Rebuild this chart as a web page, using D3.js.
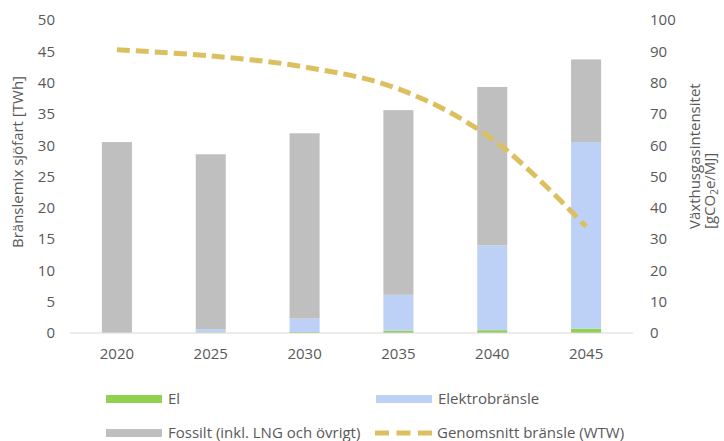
<!DOCTYPE html>
<html>
<head>
<meta charset="utf-8">
<script src="https://cdn.jsdelivr.net/npm/d3@7/dist/d3.min.js"></script>
<style>
  html, body { margin: 0; padding: 0; background: #fff; }
  svg text { font-family: "Open Sans", "Liberation Sans", sans-serif; fill: #595959; }
</style>
</head>
<body>
<svg id="chart" width="724" height="441"></svg>
<script>
// Fuel mix for shipping (TWh) and average fuel GHG intensity (gCO2e/MJ)
const years = ["2020", "2025", "2030", "2035", "2040", "2045"];
const el = [0.05, 0.1, 0.15, 0.35, 0.45, 0.7];
const elektro = [0, 0.5, 2.15, 5.75, 13.55, 29.8];
const fossil = [30.45, 27.95, 29.6, 29.5, 25.3, 13.2];
const wtw = [90.5, 88.5, 85, 78, 62, 34];
const leftTicks = [0, 5, 10, 15, 20, 25, 30, 35, 40, 45, 50];
const rightTicks = [0, 10, 20, 30, 40, 50, 60, 70, 80, 90, 100];

const seriesDefs = [
  { key: "el", name: "El", values: el, color: "#92D050" },
  { key: "elektro", name: "Elektrobränsle", values: elektro, color: "#BDD1F7" },
  { key: "fossil", name: "Fossilt (inkl. LNG och övrigt)", values: fossil, color: "#BFBFBF" }
];

const FS = "15px";
const svg = d3.select("#chart");
const plotLeft = 70, plotRight = 633, plotTop = 20, plotBottom = 333;

const x = d3.scaleBand().domain(years).range([plotLeft, plotRight]).paddingInner(0.68).paddingOuter(0.34);
const yL = d3.scaleLinear().domain([0, 50]).range([plotBottom, plotTop]);
const yR = d3.scaleLinear().domain([0, 100]).range([plotBottom, plotTop]);

// Stacked bars
const rows = years.map((yr, i) => {
  const r = { year: yr };
  seriesDefs.forEach(s => r[s.key] = s.values[i]);
  return r;
});
const stack = d3.stack().keys(seriesDefs.map(s => s.key));
const layers = stack(rows);

svg.append("g").selectAll("g")
  .data(layers)
  .join("g")
  .attr("fill", (d, i) => seriesDefs[i].color)
  .selectAll("rect")
  .data(d => d)
  .join("rect")
  .attr("x", d => x(d.data.year))
  .attr("width", x.bandwidth())
  .attr("y", d => yL(d[1]))
  .attr("height", d => yL(d[0]) - yL(d[1]));

// Baseline
svg.append("line")
  .attr("x1", plotLeft).attr("x2", plotRight)
  .attr("y1", yL(0)).attr("y2", yL(0))
  .attr("stroke", "#D9D9D9").attr("stroke-width", 1);

function styleTicks(g) {
  g.select(".domain").remove();
  g.selectAll("text").style("font-size", FS)
    .style("font-family", "'Open Sans', sans-serif").attr("fill", "#595959");
}

// Left axis labels
const gL = svg.append("g").attr("transform", "translate(55,0)")
  .call(d3.axisLeft(yL).tickValues(leftTicks).tickSize(0).tickPadding(0));
styleTicks(gL);

// Right axis labels
const gR = svg.append("g").attr("transform", "translate(650,0)")
  .call(d3.axisRight(yR).tickValues(rightTicks).tickSize(0).tickPadding(0));
styleTicks(gR);

// Category axis labels
const gX = svg.append("g").attr("transform", `translate(0,${plotBottom + 15})`)
  .call(d3.axisBottom(x).tickSize(0).tickPadding(0));
styleTicks(gX);

// Average fuel intensity line
const line = d3.line()
  .x((d, i) => x(years[i]) + x.bandwidth() / 2)
  .y(d => yR(d))
  .curve(d3.curveCatmullRom.alpha(0.5));
svg.append("path")
  .datum(wtw)
  .attr("d", line)
  .attr("fill", "none")
  .attr("stroke", "#DCC060")
  .attr("stroke-width", 5)
  .attr("stroke-dasharray", "13 6");

// Axis titles
svg.append("text")
  .attr("transform", "translate(23,162) rotate(-90)")
  .attr("text-anchor", "middle")
  .style("font-size", FS)
  .text("Bränslemix sjöfart [TWh]");

const rt = svg.append("text")
  .attr("transform", "translate(700,229) rotate(-90)")
  .attr("text-anchor", "start")
  .style("font-size", FS);
rt.append("tspan").attr("x", 0).attr("y", 0).text("Växthusgasintensitet");
rt.append("tspan").attr("x", 0).attr("y", 15).text("[gCO");
rt.append("tspan").attr("dy", 3).style("font-size", "10px").text("2");
rt.append("tspan").attr("dy", -3).text("e/MJ]");

// Legend
const legend = [
  { name: "El", color: "#92D050", x: 106, y: 399, type: "box" },
  { name: "Elektrobränsle", color: "#BDD1F7", x: 376, y: 399, type: "box" },
  { name: "Fossilt (inkl. LNG och övrigt)", color: "#BFBFBF", x: 106, y: 433, type: "box" },
  { name: "Genomsnitt bränsle (WTW)", color: "#DCC060", x: 375, y: 433, type: "line" }
];
const lg = svg.append("g");
legend.forEach(d => {
  if (d.type === "box") {
    lg.append("rect").attr("x", d.x).attr("y", d.y - 4).attr("width", 56).attr("height", 8).attr("fill", d.color);
  } else {
    lg.append("line").attr("x1", d.x).attr("x2", d.x + 57).attr("y1", d.y).attr("y2", d.y)
      .attr("stroke", d.color).attr("stroke-width", 5).attr("stroke-dasharray", "14 7.5");
  }
  lg.append("text").attr("x", d.x + 62).attr("y", d.y).attr("dy", "0.35em")
    .style("font-size", FS).text(d.name);
});
</script>
</body>
</html>
